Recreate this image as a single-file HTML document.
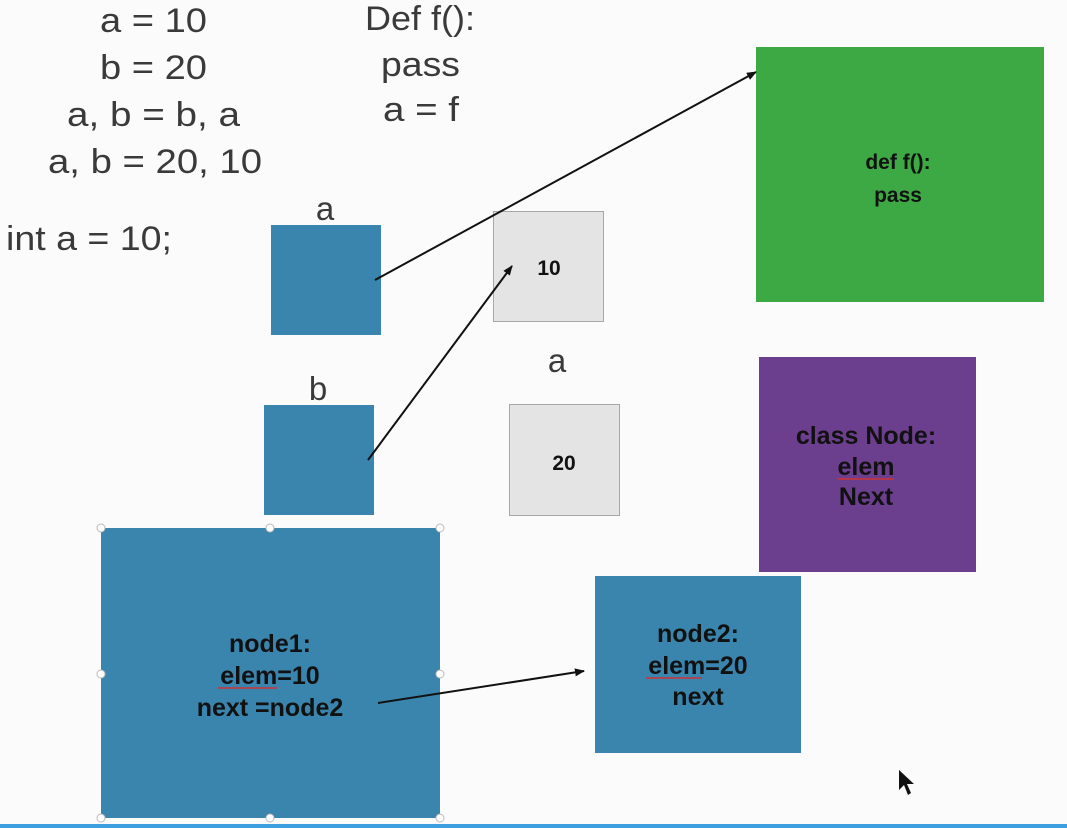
<!DOCTYPE html>
<html><head><style>
html,body{margin:0;padding:0;background:#fbfbfb;}
svg{display:block;}
text{font-family:"Liberation Sans",sans-serif;}
</style></head><body>
<svg width="1067" height="828" xmlns="http://www.w3.org/2000/svg">
<defs><marker id="ah" markerWidth="10" markerHeight="8" refX="9" refY="4" orient="auto" markerUnits="userSpaceOnUse"><path d="M0,0 L10,4 L0,8 z" fill="#111"/></marker></defs>
<rect width="1067" height="828" fill="#fbfbfb"/>
<g fill="#3a3a3a" font-size="34" lengthAdjust="spacingAndGlyphs">
<text x="100" y="32" textLength="107" lengthAdjust="spacingAndGlyphs">a = 10</text>
<text x="100" y="79" textLength="107" lengthAdjust="spacingAndGlyphs">b = 20</text>
<text x="67" y="126" textLength="173" lengthAdjust="spacingAndGlyphs">a, b = b, a</text>
<text x="48" y="173" textLength="214" lengthAdjust="spacingAndGlyphs">a, b = 20, 10</text>
<text x="365" y="30" textLength="110" lengthAdjust="spacingAndGlyphs">Def f():</text>
<text x="381" y="76" textLength="79" lengthAdjust="spacingAndGlyphs">pass</text>
<text x="383" y="121" textLength="76" lengthAdjust="spacingAndGlyphs">a = f</text>
<text x="6" y="250" textLength="166" lengthAdjust="spacingAndGlyphs">int a = 10;</text>
</g>
<g fill="#3a3a3a" font-size="33" text-anchor="middle">
<text x="325" y="220">a</text>
<text x="318" y="400">b</text>
<text x="557" y="372">a</text>
</g>
<rect x="271" y="225" width="110" height="110" fill="#3a85ad"/>
<rect x="264" y="405" width="110" height="110" fill="#3a85ad"/>
<rect x="493.5" y="211.5" width="110" height="110" fill="#e4e4e4" stroke="#a8a8a8"/>
<rect x="509.5" y="404.5" width="110" height="111" fill="#e4e4e4" stroke="#a8a8a8"/>
<rect x="756" y="47" width="288" height="255" fill="#3da945"/>
<rect x="759" y="357" width="217" height="215" fill="#6b3e8e"/>
<rect x="101" y="528" width="339" height="290" fill="#3a85ad"/>
<rect x="595" y="576" width="206" height="177" fill="#3a85ad"/>
<g fill="#fff" stroke="#bbb" stroke-width="1">
<circle cx="101" cy="528" r="4"/><circle cx="270" cy="528" r="4"/><circle cx="440" cy="528" r="4"/>
<circle cx="101" cy="674" r="4"/><circle cx="440" cy="674" r="4"/>
<circle cx="101" cy="818" r="4"/><circle cx="270" cy="818" r="4"/><circle cx="440" cy="818" r="4"/>
</g>
<g font-weight="bold" font-size="21" text-anchor="middle" fill="#111">
<text x="549" y="275">10</text>
<text x="564" y="470">20</text>
<text x="898" y="169">def f():</text>
<text x="898" y="202">pass</text>
</g>
<g font-weight="bold" font-size="25" text-anchor="middle" fill="#111">
<text x="866" y="444">class Node:</text>
<text x="866" y="475">elem</text>
<text x="866" y="505">Next</text>
<text x="270" y="652">node1:</text>
<text x="270" y="684">elem=10</text>
<text x="270" y="716">next =node2</text>
<text x="698" y="642">node2:</text>
<text x="698" y="674">elem=20</text>
<text x="698" y="705">next</text>
</g>
<line x1="218" y1="688" x2="277" y2="688" stroke="#c33" stroke-width="1.5"/>
<line x1="838" y1="479" x2="894" y2="479" stroke="#c33" stroke-width="1.5"/>
<line x1="646" y1="678" x2="702" y2="678" stroke="#c33" stroke-width="1.5"/>
<g stroke="#111" stroke-width="2" marker-end="url(#ah)">
<line x1="375" y1="280" x2="756" y2="72"/>
<line x1="368" y1="460" x2="512" y2="266"/>
<line x1="378" y1="703" x2="584" y2="671"/>
</g>
<path d="M899,770 L899,790 L904,785 L908,795 L911,793 L907,784 L914,784 z" fill="#111"/>
<rect x="0" y="824" width="1067" height="4" fill="#3d9fe0"/>
</svg>
</body></html>
